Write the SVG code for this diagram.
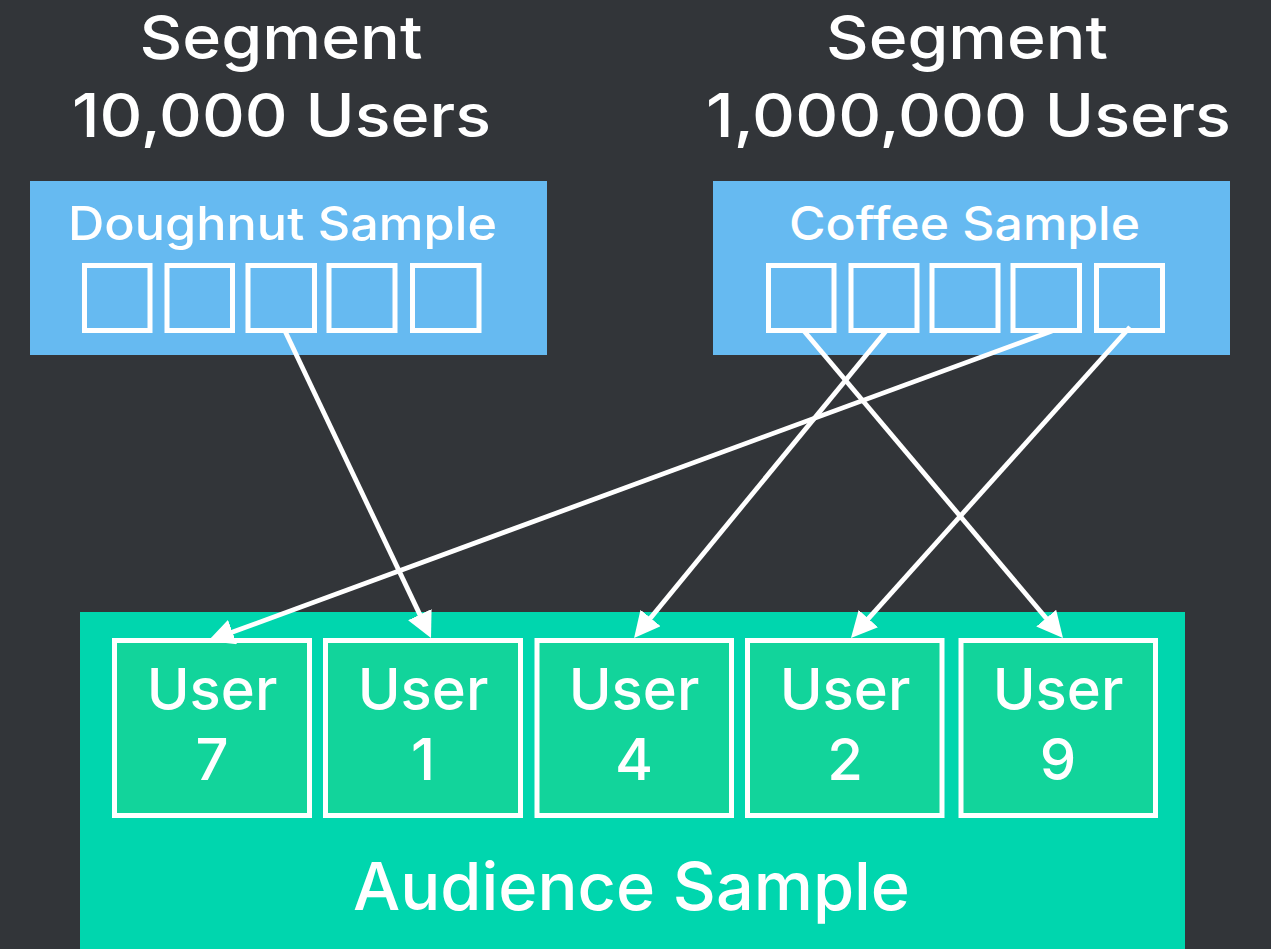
<svg xmlns="http://www.w3.org/2000/svg" width="1271" height="949" viewBox="0 0 1271 949">
<style>
  .t { font-family: Inter, "Liberation Sans", sans-serif; font-weight: 500; fill: #ffffff; text-anchor: middle; }
  .title { font-size: 60px; }
  .lbl { font-size: 46px; }
  .usr { font-size: 58px; }
  .aud { font-size: 66px; }
  .sq { fill: none; stroke: #ffffff; stroke-width: 5; }
  .ubox { fill: #12D49B; stroke: #ffffff; stroke-width: 5; }
  .conn { stroke: #ffffff; stroke-width: 4.8; fill: none; marker-end: url(#ah); }
</style>
<defs>
  <marker id="ah" markerUnits="userSpaceOnUse" markerWidth="26" markerHeight="26" viewBox="0 0 26 26" refX="2" refY="13" orient="auto">
    <path d="M0,0 L26,13 L0,26 z" fill="#ffffff"/>
  </marker>
</defs>
<rect x="0" y="0" width="1271" height="949" fill="#323539"/>

<g id="title-left">
  <text class="t title" x="281" y="59" textLength="283" lengthAdjust="spacingAndGlyphs">Segment</text>
  <text class="t title" x="281.5" y="137" textLength="419" lengthAdjust="spacingAndGlyphs">10,000 Users</text>
</g>
<g id="title-right">
  <text class="t title" x="967" y="59" textLength="282" lengthAdjust="spacingAndGlyphs">Segment</text>
  <text class="t title" x="968.5" y="137" textLength="525" lengthAdjust="spacingAndGlyphs">1,000,000 Users</text>
</g>

<g id="doughnut-sample">
  <rect x="30" y="181" width="517" height="174" fill="#66BAF1"/>
  <text class="t lbl" x="282.5" y="240" textLength="429" lengthAdjust="spacingAndGlyphs">Doughnut Sample</text>
  <rect class="sq" x="84.5" y="265.5" width="65.5" height="65"/>
  <rect class="sq" x="167" y="265.5" width="65.5" height="65"/>
  <rect class="sq" x="248" y="265.5" width="66.5" height="65"/>
  <rect class="sq" x="329" y="265.5" width="66" height="65"/>
  <rect class="sq" x="412.5" y="265.5" width="66.5" height="65"/>
</g>

<g id="coffee-sample">
  <rect x="713" y="181" width="517" height="174" fill="#66BAF1"/>
  <text class="t lbl" x="964.5" y="240" textLength="351" lengthAdjust="spacingAndGlyphs">Coffee Sample</text>
  <rect class="sq" x="768.5" y="265.5" width="65.5" height="65"/>
  <rect class="sq" x="851" y="265.5" width="66" height="65"/>
  <rect class="sq" x="932" y="265.5" width="66" height="65"/>
  <rect class="sq" x="1013" y="265.5" width="66.5" height="65"/>
  <rect class="sq" x="1096.5" y="265.5" width="66" height="65"/>
</g>

<g id="audience-sample">
  <rect x="80" y="612" width="1105" height="337" fill="#00D6AE"/>
  <text class="t aud" x="631.5" y="910" textLength="557" lengthAdjust="spacingAndGlyphs">Audience Sample</text>
</g>

<g id="user-7">
  <rect class="ubox" x="114.5" y="640.5" width="195" height="175"/>
  <text class="t usr" x="212" y="710">User</text>
  <text class="t usr" x="212" y="780">7</text>
</g>
<g id="user-1">
  <rect class="ubox" x="325.5" y="640.5" width="195" height="175"/>
  <text class="t usr" x="423" y="710">User</text>
  <text class="t usr" x="423" y="780">1</text>
</g>
<g id="user-4">
  <rect class="ubox" x="537" y="640.5" width="194.5" height="175"/>
  <text class="t usr" x="634" y="710">User</text>
  <text class="t usr" x="634" y="780">4</text>
</g>
<g id="user-2">
  <rect class="ubox" x="747.5" y="640.5" width="194.5" height="175"/>
  <text class="t usr" x="845" y="710">User</text>
  <text class="t usr" x="845" y="780">2</text>
</g>
<g id="user-9">
  <rect class="ubox" x="961" y="640.5" width="194.5" height="175"/>
  <text class="t usr" x="1058" y="710">User</text>
  <text class="t usr" x="1058" y="780">9</text>
</g>

<g id="connectors">
  <line class="conn" x1="285" y1="331" x2="420.7" y2="616.4"/>
  <line class="conn" x1="1052" y1="331" x2="230.6" y2="632.8"/>
  <line class="conn" x1="886" y1="331" x2="649.3" y2="619.5"/>
  <line class="conn" x1="1130" y1="327" x2="867.0" y2="620.1"/>
  <line class="conn" x1="804" y1="331" x2="1047.5" y2="619.7"/>
</g>
</svg>
